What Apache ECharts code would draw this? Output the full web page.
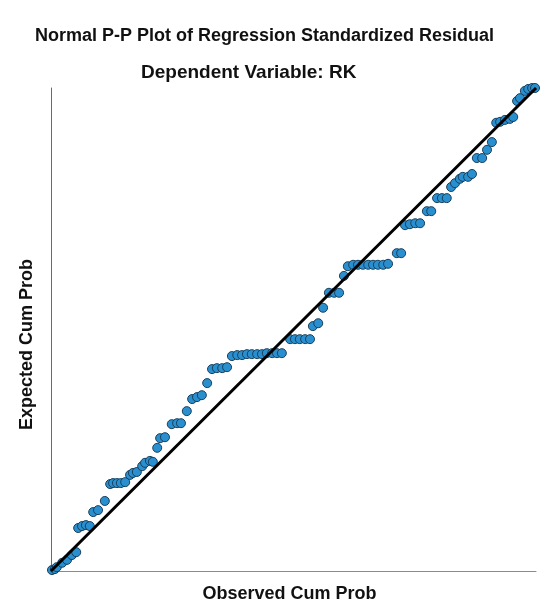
<!DOCTYPE html>
<html lang="en">
<head>
    <meta charset="UTF-8">
    <title>Normal P-P Plot</title>
    <style>
        html, body { margin: 0; padding: 0; background: #fff; }
        #main { width: 548px; height: 602px; }
    </style>
</head>
<body>
<div id="main"></div>
<script src="https://cdn.jsdelivr.net/npm/echarts@6/dist/echarts.min.js"></script>
<script type="text/javascript">
    // observed / expected cumulative probabilities
    var obsProb = [0.002, 0.008, 0.012, 0.023, 0.033, 0.043, 0.052, 0.056, 0.064, 0.072,
        0.080, 0.087, 0.097, 0.111, 0.122, 0.128, 0.136, 0.144, 0.153, 0.163,
        0.169, 0.177, 0.188, 0.194, 0.204, 0.210, 0.219, 0.225, 0.235, 0.249,
        0.260, 0.268, 0.280, 0.291, 0.301, 0.311, 0.322, 0.332, 0.342, 0.353,
        0.363, 0.373, 0.384, 0.394, 0.404, 0.414, 0.425, 0.435, 0.445, 0.456,
        0.466, 0.476, 0.493, 0.503, 0.513, 0.524, 0.534, 0.540, 0.551, 0.561,
        0.573, 0.584, 0.594, 0.604, 0.612, 0.623, 0.633, 0.643, 0.654, 0.664,
        0.674, 0.685, 0.695, 0.713, 0.722, 0.730, 0.740, 0.751, 0.761, 0.775,
        0.784, 0.796, 0.806, 0.816, 0.825, 0.833, 0.843, 0.849, 0.860, 0.868,
        0.878, 0.889, 0.899, 0.909, 0.918, 0.926, 0.936, 0.946, 0.953, 0.961,
        0.967, 0.977, 0.984, 0.992, 0.998];
    var expProb = [0.002, 0.004, 0.008, 0.017, 0.023, 0.033, 0.039, 0.089, 0.093, 0.095,
        0.093, 0.122, 0.126, 0.145, 0.180, 0.182, 0.182, 0.182, 0.184, 0.199,
        0.203, 0.205, 0.217, 0.224, 0.228, 0.226, 0.255, 0.275, 0.277, 0.304,
        0.306, 0.306, 0.331, 0.356, 0.360, 0.364, 0.389, 0.418, 0.420, 0.420,
        0.422, 0.445, 0.447, 0.447, 0.449, 0.449, 0.449, 0.449, 0.451, 0.451,
        0.451, 0.451, 0.480, 0.480, 0.480, 0.480, 0.480, 0.507, 0.513, 0.545,
        0.576, 0.576, 0.576, 0.611, 0.631, 0.634, 0.634, 0.634, 0.634, 0.634,
        0.634, 0.634, 0.636, 0.658, 0.658, 0.716, 0.718, 0.720, 0.720, 0.745,
        0.745, 0.772, 0.772, 0.772, 0.795, 0.803, 0.812, 0.816, 0.816, 0.822,
        0.855, 0.855, 0.872, 0.888, 0.928, 0.930, 0.934, 0.936, 0.940, 0.973,
        0.979, 0.994, 0.998, 1.000, 1.000];
    var refLine = [[0, 0], [1, 1]];

    var points = obsProb.map(function (x, i) {
        return [x, expProb[i]];
    });

    var font = 'Arial, "Liberation Sans", sans-serif';
    var chart = echarts.init(document.getElementById('main'));

    chart.setOption({
        animation: false,
        title: [
            {
                text: 'Normal P-P Plot of Regression Standardized Residual',
                left: 30, top: 22,
                textStyle: {fontFamily: font, fontSize: 18, fontWeight: 'bold', color: '#111'}
            },
            {
                text: 'Dependent Variable: RK',
                left: 136, top: 58,
                textStyle: {fontFamily: font, fontSize: 19, fontWeight: 'bold', color: '#111'}
            }
        ],
        grid: {left: 51, right: 12, top: 88, bottom: 31, containLabel: false, outerBoundsMode: 'none'},
        xAxis: {
            type: 'value', min: 0, max: 1,
            name: 'Observed Cum Prob',
            nameLocation: 'middle', nameGap: 14,
            nameTextStyle: {fontFamily: font, fontSize: 18, fontWeight: 'bold', color: '#111', padding: [0, 8, 0, 0]},
            axisLine: {lineStyle: {color: '#8a8a8a', width: 1}},
            axisTick: {show: false},
            axisLabel: {show: false},
            splitLine: {show: false}
        },
        yAxis: {
            type: 'value', min: 0, max: 1,
            name: 'Expected Cum Prob',
            nameLocation: 'middle', nameGap: 15,
            nameTextStyle: {fontFamily: font, fontSize: 18, fontWeight: 'bold', color: '#111', padding: [0, 30, 0, 0]},
            axisLine: {show: true, lineStyle: {color: '#6a6a6a', width: 1}},
            axisTick: {show: false},
            axisLabel: {show: false},
            splitLine: {show: false}
        },
        series: [
            {
                type: 'scatter',
                data: points,
                symbolSize: 9,
                itemStyle: {color: '#2a8fcf', borderColor: '#163f5c', borderWidth: 1, opacity: 1},
                z: 2
            },
            {
                type: 'line',
                data: refLine,
                showSymbol: false,
                lineStyle: {color: '#000', width: 3},
                z: 3
            }
        ]
    });
</script>
</body>
</html>
